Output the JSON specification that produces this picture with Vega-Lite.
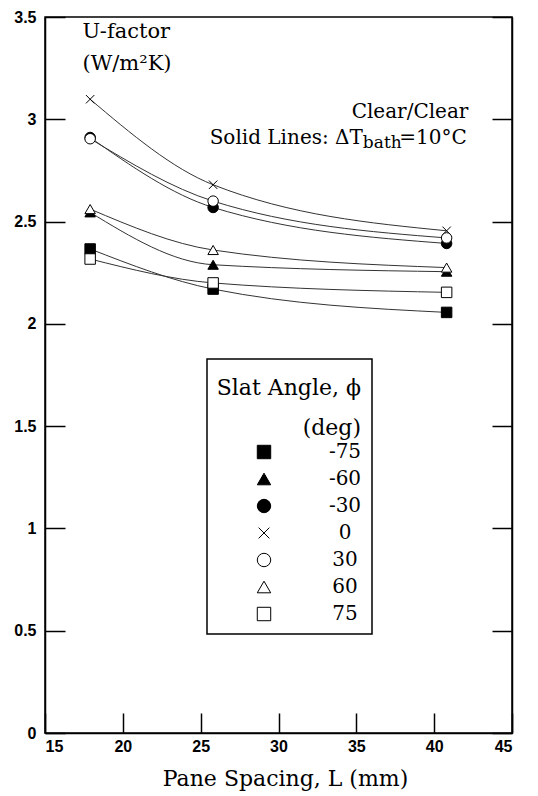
{
  "$schema": "https://vega.github.io/schema/vega-lite/v6.json",
  "width": 467,
  "height": 716,
  "autosize": "none",
  "padding": {"left": 45, "top": 17, "right": 26, "bottom": 63},
  "background": "white",
  "config": {
    "view": {"stroke": "black", "strokeWidth": 1.5},
    "axis": {
      "grid": false,
      "domainColor": "black",
      "domainWidth": 1.5,
      "tickColor": "black",
      "tickWidth": 1.5,
      "tickSize": -20,
      "labelFont": "Liberation Sans",
      "labelFontWeight": "bold",
      "labelFontSize": 16,
      "labelColor": "black",
      "titleFont": "DejaVu Serif",
      "titleFontWeight": "normal",
      "titleFontSize": 21,
      "titleColor": "black"
    },
    "legend": {
      "orient": "none",
      "legendX": 162,
      "legendY": 342,
      "strokeColor": "black",
      "strokeWidth": 1.5,
      "padding": 10,
      "fillColor": "white",
      "titleFont": "DejaVu Serif",
      "titleFontSize": 22,
      "titleFontWeight": "normal",
      "titleColor": "black",
      "titleAlign": "right",
      "titleAnchor": "end",
      "titleBaseline": "line-top",
      "titleLineHeight": 40,
      "titleLimit": 300,
      "titlePadding": 11,
      "labelFont": "DejaVu Serif",
      "labelFontSize": 20,
      "labelColor": "black",
      "labelAlign": "center",
      "labelOffset": 71,
      "symbolSize": 180,
      "symbolStrokeColor": "black",
      "symbolStrokeWidth": 1,
      "rowPadding": 7
    }
  },
  "data": {
    "values": [
      {"L": 17.9, "U": 2.366, "angle": "-75"},
      {"L": 25.8, "U": 2.170, "angle": "-75"},
      {"L": 40.8, "U": 2.056, "angle": "-75"},
      {"L": 17.9, "U": 2.545, "angle": "-60"},
      {"L": 25.8, "U": 2.289, "angle": "-60"},
      {"L": 40.8, "U": 2.255, "angle": "-60"},
      {"L": 17.9, "U": 2.911, "angle": "-30"},
      {"L": 25.8, "U": 2.569, "angle": "-30"},
      {"L": 40.8, "U": 2.393, "angle": "-30"},
      {"L": 17.9, "U": 3.098, "angle": "0"},
      {"L": 25.8, "U": 2.680, "angle": "0"},
      {"L": 40.8, "U": 2.455, "angle": "0"},
      {"L": 17.9, "U": 2.905, "angle": "30"},
      {"L": 25.8, "U": 2.600, "angle": "30"},
      {"L": 40.8, "U": 2.420, "angle": "30"},
      {"L": 17.9, "U": 2.561, "angle": "60"},
      {"L": 25.8, "U": 2.361, "angle": "60"},
      {"L": 40.8, "U": 2.275, "angle": "60"},
      {"L": 17.9, "U": 2.317, "angle": "75"},
      {"L": 25.8, "U": 2.200, "angle": "75"},
      {"L": 40.8, "U": 2.154, "angle": "75"}
    ]
  },
  "resolve": {"axis": {"y": "independent"}},
  "layer": [
    {
      "mark": {"type": "line", "interpolate": "monotone", "color": "#333333", "strokeWidth": 1},
      "encoding": {
        "x": {"field": "L", "type": "quantitative", "scale": {"domain": [15, 45], "nice": false, "zero": false},
          "axis": {"values": [15, 20, 25, 30, 35, 40, 45], "labelPadding": 25, "title": "Pane Spacing, L (mm)", "titlePadding": 14, "titleFontSize": 22, "titleX": 240, "titleAlign": "center"}},
        "y": {"field": "U", "type": "quantitative", "scale": {"domain": [0, 3.5], "nice": false},
          "axis": {"values": [0, 0.5, 1, 1.5, 2, 2.5, 3, 3.5], "format": "~g", "labelPadding": 29,
            "title": ["U-factor", "(W/m²K)"], "titleAngle": 0, "titleAlign": "left", "titleBaseline": "alphabetic",
            "titleX": 37, "titleY": 20, "titleLineHeight": 32}},
        "detail": {"field": "angle", "type": "nominal"}
      }
    },
    {
      "mark": {"type": "point", "filled": false, "strokeWidth": 1, "opacity": 1, "size": 110},
      "encoding": {
        "x": {"field": "L", "type": "quantitative"},
        "y": {"field": "U", "type": "quantitative",
          "axis": {"orient": "right", "values": [0, 0.5, 1, 1.5, 2, 2.5, 3, 3.5], "labels": false, "title": null}},
        "shape": {"field": "angle", "type": "nominal",
          "scale": {"domain": ["-75", "-60", "-30", "0", "30", "60", "75"],
            "range": ["square", "triangle-up", "circle", "M-0.8,-0.8L0.8,0.8M-0.8,0.8L0.8,-0.8", "circle", "triangle-up", "square"]},
          "legend": {"title": ["Slat Angle, ϕ", "(deg)"], "labelExpr": "datum.label + '\u00a0\u00a0'"}},
        "fill": {"field": "angle", "type": "nominal",
          "scale": {"domain": ["-75", "-60", "-30", "0", "30", "60", "75"],
            "range": ["black", "black", "black", "transparent", "white", "white", "white"]},
          "legend": {"title": ["Slat Angle, ϕ", "(deg)"], "labelExpr": "datum.label + '\u00a0\u00a0'"}},
        "stroke": {"field": "angle", "type": "nominal",
          "scale": {"domain": ["-75", "-60", "-30", "0", "30", "60", "75"],
            "range": ["black", "black", "black", "black", "black", "black", "black"]},
          "legend": {"title": ["Slat Angle, ϕ", "(deg)"], "labelExpr": "datum.label + '\u00a0\u00a0'"}}
      }
    },
    {
      "data": {"values": [{}]},
      "mark": {"type": "text", "font": "DejaVu Serif", "fontSize": 20, "align": "right", "baseline": "alphabetic", "color": "black"},
      "encoding": {
        "x": {"datum": 42.2, "type": "quantitative"},
        "y": {"datum": 3.007, "type": "quantitative", "axis": null},
        "text": {"value": "Clear/Clear"}
      }
    },
    {
      "data": {"values": [{}]},
      "mark": {"type": "text", "font": "DejaVu Serif", "fontSize": 20, "align": "right", "baseline": "alphabetic", "color": "black"},
      "encoding": {
        "x": {"datum": 35.42, "type": "quantitative"},
        "y": {"datum": 2.88, "type": "quantitative", "axis": null},
        "text": {"value": "Solid Lines:  ΔT"}
      }
    },
    {
      "data": {"values": [{}]},
      "mark": {"type": "text", "font": "DejaVu Serif", "fontSize": 17, "align": "left", "baseline": "alphabetic", "color": "black"},
      "encoding": {
        "x": {"datum": 35.42, "type": "quantitative"},
        "y": {"datum": 2.858, "type": "quantitative", "axis": null},
        "text": {"value": "bath"}
      }
    },
    {
      "data": {"values": [{}]},
      "mark": {"type": "text", "font": "DejaVu Serif", "fontSize": 20, "align": "right", "baseline": "alphabetic", "color": "black"},
      "encoding": {
        "x": {"datum": 42.1, "type": "quantitative"},
        "y": {"datum": 2.88, "type": "quantitative", "axis": null},
        "text": {"value": "=10°C"}
      }
    }
  ]
}
